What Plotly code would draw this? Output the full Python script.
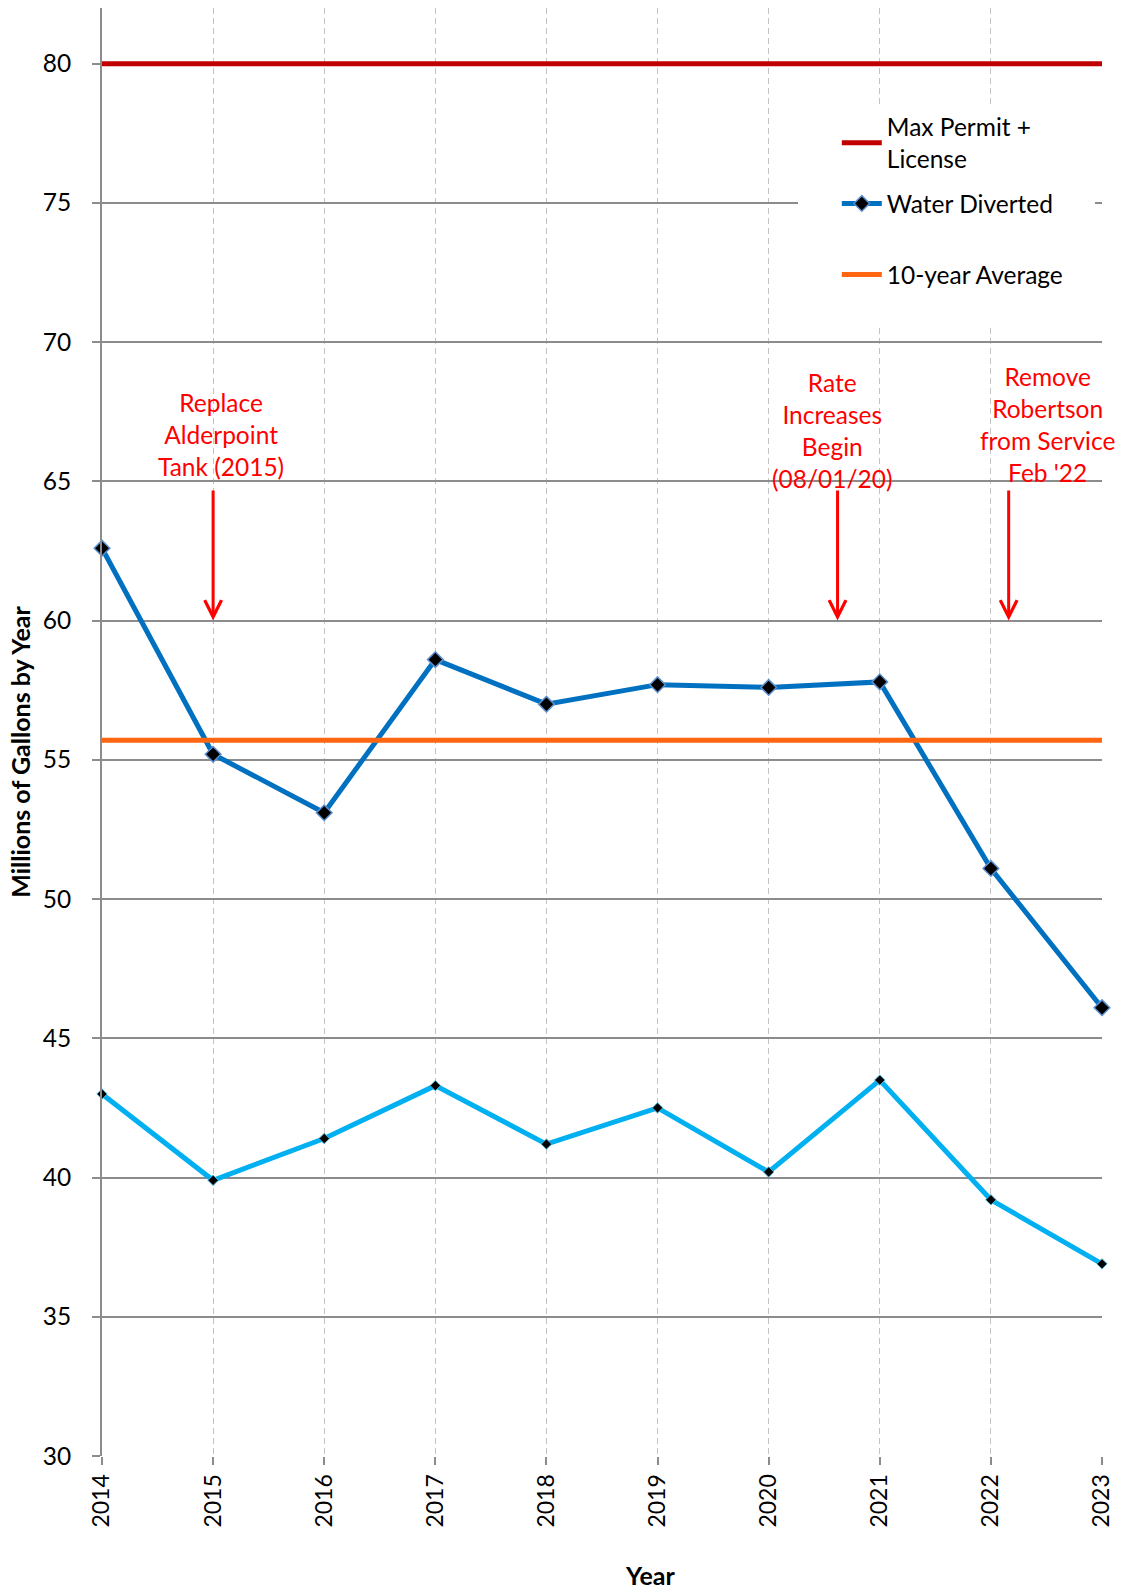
import plotly.graph_objects as go

# Annual totals, millions of gallons
years = [2014, 2015, 2016, 2017, 2018, 2019, 2020, 2021, 2022, 2023]
water_diverted = [62.6, 55.2, 53.1, 58.6, 57.0, 57.7, 57.6, 57.8, 51.1, 46.1]
water_secondary = [43.0, 39.9, 41.4, 43.3, 41.2, 42.5, 40.2, 43.5, 39.2, 36.9]
max_permit = [80, 80]
ten_year_avg = [55.7, 55.7]
span_years = [2014, 2023]

# Events marked with arrows
event_labels = ["Replace<br>Alderpoint<br>Tank (2015)",
                "Rate<br>Increases<br>Begin<br>(08/01/20)",
                "Remove<br>Robertson<br>from Service<br>Feb '22"]
event_years = [2015.0, 2020.62, 2022.16]

FONT = "Lato"
GRID_SOLID = "#8c8c8c"
GRID_DASH = "#c3c3c3"
LEGEND_FONT = dict(family=FONT, size=24.5, color="black")

fig = go.Figure()

fig.add_trace(go.Scatter(
    x=span_years, y=max_permit, mode="lines", name="Max Permit +<br>License",
    line=dict(color="#C00000", width=5), legendgroup="a",
))
fig.add_trace(go.Scatter(
    x=years, y=water_diverted, mode="lines+markers", name="Water Diverted",
    line=dict(color="#0070C0", width=5),
    marker=dict(symbol="diamond", size=12, color="black",
                line=dict(color="#5B8FD0", width=1.5)),
    cliponaxis=False, legendgroup="b",
))
fig.add_trace(go.Scatter(
    x=span_years, y=ten_year_avg, mode="lines", name="10-year Average",
    line=dict(color="#FF6611", width=5), legend="legend2",
))
fig.add_trace(go.Scatter(
    x=years, y=water_secondary, mode="lines+markers", showlegend=False,
    line=dict(color="#00B0F0", width=5),
    marker=dict(symbol="diamond", size=8, color="black",
                line=dict(color="#4FB8E0", width=1)),
    cliponaxis=False,
))

annotations = []
label_y = [66.67, 66.81, 67.04]
label_dx = [0.07, -0.05, 0.35]
for lbl, yr, ly, dx in zip(event_labels, event_years, label_y, label_dx):
    annotations.append(dict(
        x=yr + dx, y=ly, xref="x", yref="y", text=lbl, showarrow=False,
        font=dict(family=FONT, size=24.5, color="#FF0000"),
        xanchor="center", yanchor="middle", align="center",
    ))
    annotations.append(dict(
        x=yr, y=60, ax=yr, ay=64.73, xref="x", yref="y", axref="x", ayref="y",
        text="", showarrow=True, arrowhead=5, arrowsize=1.1, arrowwidth=3,
        arrowcolor="#FF0000", standoff=0, startstandoff=0,
    ))

annotations.append(dict(
    x=0.548, y=-0.082, xref="paper", yref="paper", text="<b>Year</b>",
    showarrow=False, font=dict(family=FONT, size=25, color="black"),
    xanchor="center", yanchor="middle",
))
annotations.append(dict(
    x=-0.0815, y=0.486, xref="paper", yref="paper",
    text="<b>Millions of Gallons by Year</b>", textangle=-90,
    showarrow=False, font=dict(family=FONT, size=25, color="black"),
    xanchor="center", yanchor="middle",
))

fig.update_layout(
    width=1124, height=1591,
    margin=dict(l=102, r=22, t=8, b=135),
    paper_bgcolor="white", plot_bgcolor="white",
    font=dict(family=FONT, size=24, color="black"),
    showlegend=True,
    legend=dict(
        x=0.7348, y=0.9335, xanchor="left", yanchor="top",
        bgcolor="rgba(0,0,0,0)", traceorder="grouped", tracegroupgap=10,
        font=LEGEND_FONT, itemwidth=40,
    ),
    legend2=dict(
        x=0.7348, y=0.8315, xanchor="left", yanchor="top",
        bgcolor="rgba(0,0,0,0)", font=LEGEND_FONT, itemwidth=40,
    ),
    annotations=annotations,
    shapes=[dict(
        type="rect", xref="paper", yref="paper", layer="above",
        x0=0.696, x1=0.993, y0=0.779, y1=0.9337,
        fillcolor="white", line=dict(width=0),
    )],
)

fig.update_xaxes(
    range=[2014, 2023], tickvals=years, ticktext=[str(y) for y in years],
    tickangle=-90, tickfont=dict(family=FONT, size=23),
    showgrid=True, gridcolor=GRID_DASH, gridwidth=1.3, griddash="6px,4px",
    showline=False, zeroline=False,
    ticks="outside", ticklen=8, tickcolor=GRID_SOLID, tickwidth=1.5,
)
fig.update_yaxes(
    range=[30, 82], tick0=30, dtick=5,
    tickfont=dict(family=FONT, size=24.5),
    showgrid=True, gridcolor=GRID_SOLID, gridwidth=1.5,
    showline=True, linecolor=GRID_SOLID, linewidth=2, zeroline=False,
    ticks="outside", ticklen=8, tickcolor=GRID_SOLID, tickwidth=1.5,
    ticklabelstandoff=16,
)

fig.write_html("out.html")
